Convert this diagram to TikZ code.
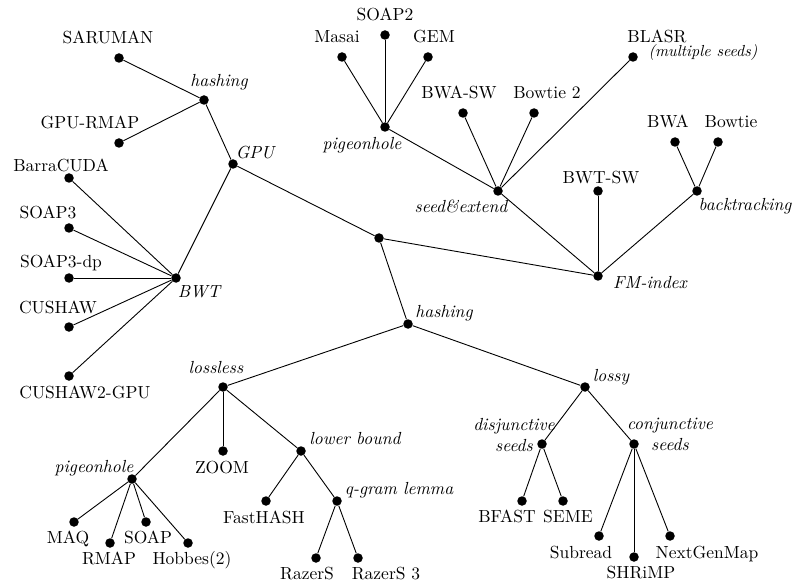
\documentclass[tikz,border=0pt]{standalone}
\usepackage{fontspec}
\setmainfont{lmroman10-regular.otf}[ItalicFont=lmroman10-italic.otf]
\begin{document}
\begin{tikzpicture}[x=1pt,y=-1pt,
  dot/.style={circle,fill=black,inner sep=0pt,minimum size=9.5pt},
  lab/.style={font=\fontsize{17.5}{21}\selectfont,inner sep=0pt,anchor=base},
  ilab/.style={font=\fontsize{17.5}{21}\selectfont\itshape,inner sep=0pt,anchor=base},
  slab/.style={font=\fontsize{16}{20}\selectfont\itshape,inner sep=0pt,anchor=base},
  mlab/.style={font=\fontsize{17.5}{21}\selectfont\itshape,inner sep=0pt,align=center,anchor=center},
  edge/.style={line width=0.9pt}]
\useasboundingbox (0,0) rectangle (792,585);
% dots
\node[dot] (root) at (379,238) {};
\node[dot] (gpu) at (233,164) {};
\node[dot] (hg) at (204,100) {};
\node[dot] (saruman) at (119,58) {};
\node[dot] (gpurmap) at (119,143) {};
\node[dot] (bwt) at (176,278) {};
\node[dot] (barracuda) at (69,178) {};
\node[dot] (soap3) at (69,228) {};
\node[dot] (soap3dp) at (69,278) {};
\node[dot] (cushaw) at (69,327) {};
\node[dot] (cushaw2) at (69,376) {};
\node[dot] (fm) at (598,276) {};
\node[dot] (se) at (498,191) {};
\node[dot] (ph1) at (385,127) {};
\node[dot] (masai) at (342,57) {};
\node[dot] (soap2) at (385,35) {};
\node[dot] (gem) at (428,57) {};
\node[dot] (bwasw) at (463,113) {};
\node[dot] (bowtie2) at (534,113) {};
\node[dot] (blasr) at (633,57) {};
\node[dot] (bwtsw) at (598,191) {};
\node[dot] (bt) at (697,191) {};
\node[dot] (bwa) at (675,142) {};
\node[dot] (bowtie) at (718,142) {};
\node[dot] (hash) at (408,324) {};
\node[dot] (lossless) at (223,387) {};
\node[dot] (ph2) at (132,479) {};
\node[dot] (maq) at (74,522) {};
\node[dot] (rmap) at (110,543) {};
\node[dot] (soap) at (146,522) {};
\node[dot] (hobbes) at (188,543) {};
\node[dot] (zoom) at (223,451) {};
\node[dot] (lb) at (301,451) {};
\node[dot] (fasthash) at (266,501) {};
\node[dot] (qgram) at (337,501) {};
\node[dot] (razers) at (316,558) {};
\node[dot] (razers3) at (358,558) {};
\node[dot] (lossy) at (585,387) {};
\node[dot] (dis) at (542,444) {};
\node[dot] (con) at (634,444) {};
\node[dot] (bfast) at (522,501) {};
\node[dot] (seme) at (563,501) {};
\node[dot] (subread) at (599,536) {};
\node[dot] (shrimp) at (634,557) {};
\node[dot] (ngm) at (670,536) {};
% edges
\draw[edge] (root) -- (gpu);
\draw[edge] (root) -- (fm);
\draw[edge] (root) -- (hash);
\draw[edge] (gpu) -- (hg);
\draw[edge] (gpu) -- (bwt);
\draw[edge] (hg) -- (saruman);
\draw[edge] (hg) -- (gpurmap);
\draw[edge] (bwt) -- (barracuda);
\draw[edge] (bwt) -- (soap3);
\draw[edge] (bwt) -- (soap3dp);
\draw[edge] (bwt) -- (cushaw);
\draw[edge] (bwt) -- (cushaw2);
\draw[edge] (fm) -- (se);
\draw[edge] (fm) -- (bwtsw);
\draw[edge] (fm) -- (bt);
\draw[edge] (se) -- (ph1);
\draw[edge] (se) -- (bwasw);
\draw[edge] (se) -- (bowtie2);
\draw[edge] (se) -- (blasr);
\draw[edge] (ph1) -- (masai);
\draw[edge] (ph1) -- (soap2);
\draw[edge] (ph1) -- (gem);
\draw[edge] (bt) -- (bwa);
\draw[edge] (bt) -- (bowtie);
\draw[edge] (hash) -- (lossless);
\draw[edge] (hash) -- (lossy);
\draw[edge] (lossless) -- (ph2);
\draw[edge] (lossless) -- (zoom);
\draw[edge] (lossless) -- (lb);
\draw[edge] (ph2) -- (maq);
\draw[edge] (ph2) -- (rmap);
\draw[edge] (ph2) -- (soap);
\draw[edge] (ph2) -- (hobbes);
\draw[edge] (lb) -- (fasthash);
\draw[edge] (lb) -- (qgram);
\draw[edge] (qgram) -- (razers);
\draw[edge] (qgram) -- (razers3);
\draw[edge] (lossy) -- (dis);
\draw[edge] (lossy) -- (con);
\draw[edge] (dis) -- (bfast);
\draw[edge] (dis) -- (seme);
\draw[edge] (con) -- (subread);
\draw[edge] (con) -- (shrimp);
\draw[edge] (con) -- (ngm);
% labels
\node[lab] (tsaruman) at (108,44) {SARUMAN};
\node[ilab] (thg) at (219,87) {hashing};
\node[lab] (tgpurmap) at (90,129) {GPU-RMAP};
\node[ilab] (tgpu) at (255,159) {GPU};
\node[lab] (tbarracuda) at (61,172) {BarraCUDA};
\node[lab] (tsoap3) at (48,219) {SOAP3};
\node[lab] (tsoap3dp) at (61,268) {SOAP3-dp};
\node[ilab] (tbwt) at (199,298) {BWT};
\node[lab] (tcushaw) at (58,313) {CUSHAW};
\node[lab] (tcushaw2) at (85,398) {CUSHAW2-GPU};
\node[ilab] (tlossless) at (216,373) {lossless};
\node[lab] (tsoap2) at (385,21) {SOAP2};
\node[lab] (tmasai) at (337,43) {Masai};
\node[lab] (tgem) at (434,43) {GEM};
\node[ilab] (tph1) at (362,150) {pigeonhole};
\node[lab] (tbwasw) at (459,99) {BWA-SW};
\node[lab] (tbowtie2) at (547,99) {Bowtie 2};
\node[ilab] (tse) at (461,213) {seed\&extend};
\node[lab] (tblasr) at (657,43) {BLASR};
\node[slab] (tmult) at (703,57) {(multiple seeds)};
\node[lab] (tbwa) at (668,128) {BWA};
\node[lab] (tbowtie) at (731,128) {Bowtie};
\node[lab] (tbwtsw) at (601,184) {BWT-SW};
\node[ilab] (tbt) at (745,211) {backtracking};
\node[ilab] (tfm) at (650,288) {FM-index};
\node[ilab] (thash) at (444,317) {hashing};
\node[lab] (tzoom) at (222,473) {ZOOM};
\node[ilab] (tlb) at (355,444) {lower bound};
\node[ilab] (tph2) at (94,472) {pigeonhole};
\node[lab] (tmaq) at (68,543) {MAQ};
\node[lab] (trmap) at (109,564) {RMAP};
\node[lab] (tsoap) at (148,543) {SOAP};
\node[lab] (thobbes) at (192,564) {Hobbes(2)};
\node[lab] (tfasthash) at (264,523) {FastHASH};
\node[ilab] (tqgram) at (399,494) {q-gram lemma};
\node[lab] (trazers) at (307,579) {RazerS};
\node[lab] (trazers3) at (386,579) {RazerS 3};
\node[ilab] (tlossy) at (611,381) {lossy};
\node[mlab] (tdis) at (514,434.6) {disjunctive\\seeds};
\node[mlab] (tcon) at (670,434.6) {conjunctive\\seeds};
\node[lab] (tbfast) at (507,522) {BFAST};
\node[lab] (tseme) at (568,522) {SEME};
\node[lab] (tsubread) at (581,558) {Subread};
\node[lab] (tshrimp) at (641,578) {SHRiMP};
\node[lab] (tngm) at (707,558) {NextGenMap};
\end{tikzpicture}
\end{document}
